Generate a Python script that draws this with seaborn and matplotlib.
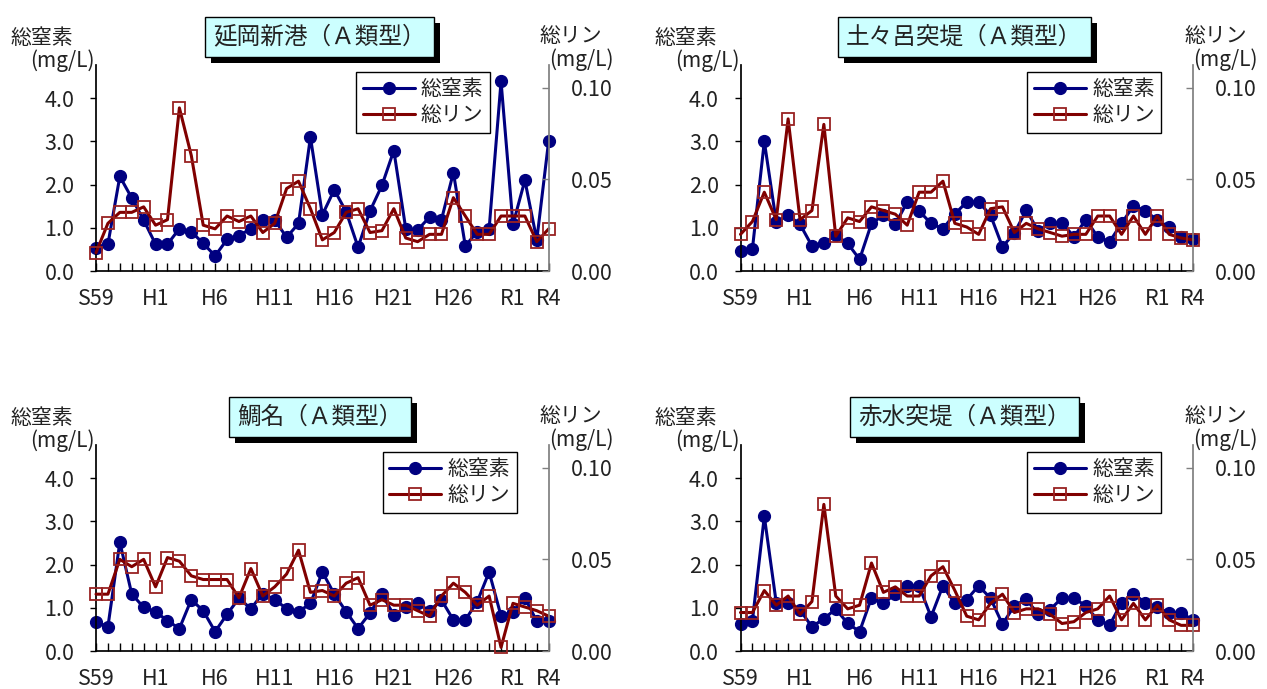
import matplotlib
matplotlib.use("Agg")
import numpy as np
import matplotlib.pyplot as plt
import matplotlib.patheffects as pe
import seaborn as sns

# === Data ===
years = ["S59", "S60", "S61", "S62", "S63",
         "H1", "H2", "H3", "H4", "H5", "H6", "H7", "H8", "H9", "H10",
         "H11", "H12", "H13", "H14", "H15", "H16", "H17", "H18", "H19", "H20",
         "H21", "H22", "H23", "H24", "H25", "H26", "H27", "H28", "H29", "H30",
         "R1", "R2", "R3", "R4"]
shown_labels = ["S59", "H1", "H6", "H11", "H16", "H21", "H26", "R1", "R4"]

site_names = ["延岡新港（Ａ類型）", "土々呂突堤（Ａ類型）", "鯛名（Ａ類型）", "赤水突堤（Ａ類型）"]

tn_nobeoka = [0.54, 0.62, 2.19, 1.69, 1.18, 0.62, 0.62, 0.98, 0.91, 0.64,
              0.35, 0.73, 0.82, 0.98, 1.18, 1.18, 0.78, 1.10, 3.10, 1.30,
              1.88, 1.37, 0.55, 1.39, 1.98, 2.79, 0.98, 0.95, 1.25, 1.19,
              2.28, 0.58, 0.91, 0.98, 4.39, 1.08, 2.10, 0.72, 3.02]
tp_nobeoka = [0.010, 0.026, 0.032, 0.032, 0.035, 0.025, 0.028, 0.089, 0.063, 0.025,
              0.023, 0.030, 0.027, 0.030, 0.021, 0.026, 0.045, 0.049, 0.034, 0.017,
              0.021, 0.032, 0.034, 0.021, 0.022, 0.034, 0.018, 0.016, 0.020, 0.020,
              0.040, 0.030, 0.020, 0.020, 0.030, 0.030, 0.030, 0.016, 0.023]

tn_totoro = [0.46, 0.51, 3.00, 1.14, 1.29, 1.08, 0.58, 0.64, 0.83, 0.64,
             0.27, 1.10, 1.29, 1.08, 1.60, 1.39, 1.10, 0.98, 1.32, 1.60,
             1.60, 1.29, 0.56, 0.88, 1.41, 0.93, 1.10, 1.12, 0.79, 1.19,
             0.79, 0.68, 1.10, 1.51, 1.39, 1.18, 1.01, 0.79, 0.74]
tp_totoro = [0.020, 0.027, 0.043, 0.028, 0.083, 0.028, 0.033, 0.080, 0.019, 0.029,
             0.027, 0.035, 0.033, 0.031, 0.025, 0.043, 0.043, 0.049, 0.026, 0.024,
             0.020, 0.034, 0.035, 0.021, 0.026, 0.023, 0.021, 0.019, 0.020, 0.020,
             0.030, 0.030, 0.020, 0.030, 0.020, 0.030, 0.020, 0.018, 0.017]

tn_taina = [0.68, 0.56, 2.52, 1.32, 1.01, 0.91, 0.70, 0.52, 1.19, 0.93,
            0.45, 0.85, 1.22, 0.98, 1.33, 1.19, 0.98, 0.91, 1.10, 1.83,
            1.32, 0.91, 0.52, 0.88, 1.32, 0.83, 1.02, 1.10, 0.93, 1.18,
            0.72, 0.72, 1.14, 1.83, 0.81, 0.91, 1.23, 0.69, 0.69]
tp_taina = [0.031, 0.031, 0.050, 0.046, 0.050, 0.035, 0.051, 0.049, 0.041, 0.039,
            0.039, 0.039, 0.029, 0.045, 0.030, 0.035, 0.042, 0.055, 0.032, 0.033,
            0.030, 0.037, 0.040, 0.025, 0.028, 0.025, 0.025, 0.022, 0.019, 0.030,
            0.037, 0.032, 0.025, 0.030, 0.002, 0.026, 0.024, 0.022, 0.019]

tn_akamizu = [0.62, 0.70, 3.12, 1.12, 1.10, 0.95, 0.56, 0.75, 0.97, 0.64,
              0.45, 1.23, 1.10, 1.32, 1.51, 1.51, 0.79, 1.51, 1.10, 1.19,
              1.51, 1.22, 0.62, 1.05, 1.20, 0.85, 0.96, 1.23, 1.23, 1.04,
              0.72, 0.60, 1.12, 1.32, 1.12, 1.01, 0.88, 0.88, 0.72]
tp_akamizu = [0.021, 0.021, 0.033, 0.025, 0.030, 0.020, 0.027, 0.080, 0.030, 0.023,
              0.025, 0.048, 0.032, 0.035, 0.030, 0.030, 0.041, 0.046, 0.033, 0.019,
              0.017, 0.026, 0.031, 0.021, 0.023, 0.023, 0.020, 0.015, 0.016, 0.021,
              0.023, 0.030, 0.017, 0.026, 0.017, 0.025, 0.017, 0.014, 0.014]

tn_all = [tn_nobeoka, tn_totoro, tn_taina, tn_akamizu]
tp_all = [tp_nobeoka, tp_totoro, tp_taina, tp_akamizu]

# === Style ===
sns.set_theme(style="white")
plt.rcParams["font.family"] = ["Noto Sans CJK JP", "DejaVu Sans"]
plt.rcParams["text.color"] = "#222222"

NAVY = "#000080"
MAROON = "#800000"
W, H = 1267, 689
PT = 0.72  # points per pixel at 100 dpi

fig = plt.figure(figsize=(W / 100, H / 100), dpi=100)

# axes boxes in pixels: left, right, top, bottom
boxes = [(96, 548.7, 65, 271), (740.5, 1193, 65, 271),
         (96, 548.7, 445, 651), (740.5, 1193, 445, 651)]
legend_x = [0.870, 0.929, 0.929, 0.929]

x = np.arange(len(years))
ticklabels = [y if y in shown_labels else "" for y in years]

for i, (l, r, t, b) in enumerate(boxes):
    ax = fig.add_axes([l / W, 1 - b / H, (r - l) / W, (b - t) / H])
    ax2 = ax.twinx()

    sns.lineplot(x=x, y=tn_all[i], ax=ax, color=NAVY, linewidth=2.2,
                 marker="o", markersize=8.5, markeredgecolor=NAVY,
                 markeredgewidth=1, legend=False, clip_on=False)
    sns.lineplot(x=x, y=tp_all[i], ax=ax2, color=MAROON, linewidth=2.2,
                 marker="s", markersize=9, markerfacecolor="none",
                 markeredgecolor="#992222", markeredgewidth=1.3,
                 legend=False, clip_on=False)

    ax.set_xlim(0, 38)
    ax.set_ylim(0, 4.77)
    ax2.set_ylim(0, 0.1124)
    ax.set_xlabel("")
    ax.set_ylabel("")
    ax2.set_ylabel("")

    ax.set_yticks([0, 1, 2, 3, 4])
    ax.set_yticklabels(["0.0", "1.0", "2.0", "3.0", "4.0"])
    ax2.set_yticks([0, 0.05, 0.10])
    ax2.set_yticklabels(["0.00", "0.05", "0.10"])
    ax.set_xticks(x)
    ax.set_xticklabels(ticklabels)
    ax.get_xticklabels()[-1].set_fontsize(18)

    ax.tick_params(axis="x", direction="in", length=6, width=1, color="black",
                   pad=12, labelsize=15.5, labelcolor="#222222", bottom=True)
    ax.tick_params(axis="y", direction="out", length=4.5, width=1, color="black",
                   pad=11, labelsize=15.5, labelcolor="#222222", left=True)
    ax2.tick_params(axis="y", direction="in", length=5, width=1, color="#808080",
                    pad=16, labelsize=15.5, labelcolor="#222222", right=True)

    for s in ["top", "right"]:
        ax.spines[s].set_visible(False)
    for s in ["top", "left", "bottom"]:
        ax2.spines[s].set_visible(False)
    ax.spines["left"].set_color("black")
    ax.spines["bottom"].set_color("black")
    ax2.spines["right"].set_color("#808080")

    # axis captions
    ax.annotate("総窒素", xy=(0, 1), xycoords="axes fraction",
                xytext=(-23 * PT, 27 * PT), textcoords="offset points",
                ha="right", va="center", fontsize=15)
    ax.annotate("(mg/L)", xy=(0, 1), xycoords="axes fraction",
                xytext=(-1 * PT, 4 * PT), textcoords="offset points",
                ha="right", va="center", fontsize=15)
    ax2.annotate("総リン", xy=(1, 1), xycoords="axes fraction",
                 xytext=(-9 * PT, 29 * PT), textcoords="offset points",
                 ha="left", va="center", fontsize=15)
    ax2.annotate("(mg/L)", xy=(1, 1), xycoords="axes fraction",
                 xytext=(0, 5 * PT), textcoords="offset points",
                 ha="left", va="center", fontsize=15)

    # title box with a black drop shadow on its frame
    title = ax2.annotate(site_names[i], xy=(0.49, 1), xycoords="axes fraction",
                         xytext=(2 * PT, 28 * PT), textcoords="offset points",
                         ha="center", va="center", fontsize=17, color="#222222",
                         bbox=dict(boxstyle="square,pad=0.35", fc="#CCFFFF",
                                   ec="black", lw=1))
    title.get_bbox_patch().set_path_effects([
        pe.SimplePatchShadow(offset=(6 * PT, -6 * PT), shadow_rgbFace="black", alpha=1),
        pe.Normal()])

    leg = ax2.legend([ax.lines[0], ax2.lines[0]], ["総窒素", "総リン"],
                     loc="upper right", bbox_to_anchor=(legend_x[i], 0.966),
                     frameon=True, fancybox=False, edgecolor="black", framealpha=1,
                     fontsize=15, handlelength=2.5, borderpad=0.3,
                     labelspacing=0.2, handletextpad=0.3, borderaxespad=0)
    leg.get_frame().set_linewidth(1)

fig.savefig("out.png", dpi=100)
